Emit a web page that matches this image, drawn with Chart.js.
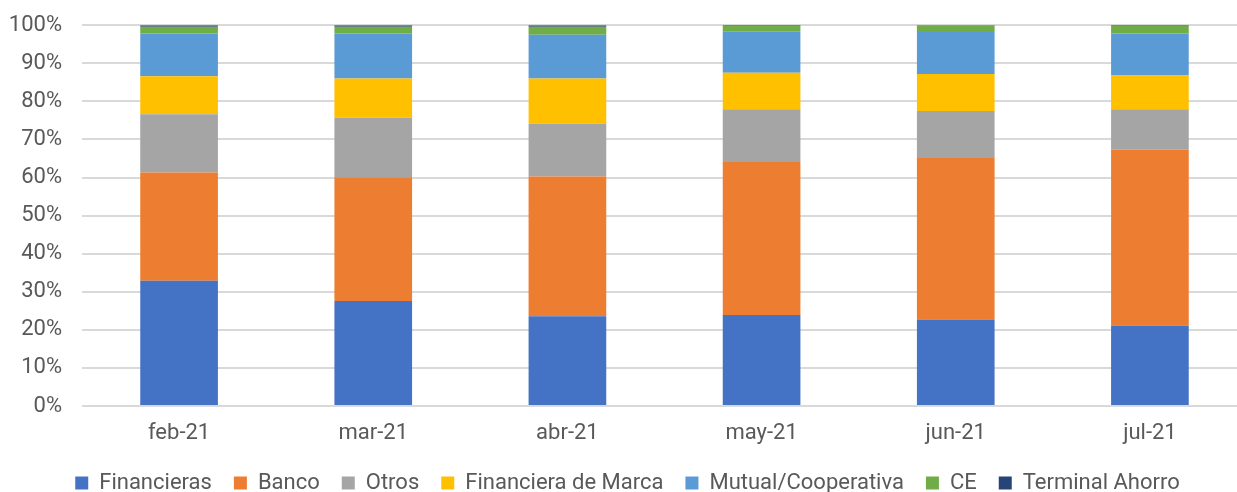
<!DOCTYPE html>
<html>
<head>
<meta charset="utf-8">
<script src="https://cdn.jsdelivr.net/npm/chart.js@4"></script>
<style>
  html, body { margin: 0; padding: 0; background: #fff; overflow: hidden; }
  #caja { width: 1290px; height: 512px; margin-top: -8px; }
</style>
</head>
<body>
<div id="caja"><canvas id="grafico"></canvas></div>
<script>
// Datos (porcentajes)
const meses = ['feb-21', 'mar-21', 'abr-21', 'may-21', 'jun-21', 'jul-21'];
const financieras = [32.9, 27.6, 23.6, 23.9, 22.7, 21.1];
const banco = [28.4, 32.5, 36.7, 40.2, 42.4, 46.2];
const otros = [15.3, 15.6, 13.8, 13.8, 12.4, 10.6];
const financieraMarca = [10.0, 10.3, 11.9, 9.6, 9.7, 8.9];
const mutualCoop = [11.2, 11.8, 11.5, 10.9, 11.0, 11.0];
const ce = [1.8, 1.8, 2.1, 1.4, 1.7, 2.0];
const terminalAhorro = [0.4, 0.4, 0.4, 0.2, 0.2, 0.2];

const fuente = 'Roboto, "Liberation Sans", sans-serif';
const gris = '#595959';

function serie(nombre, datos, color) {
    return {
        label: nombre,
        data: datos,
        backgroundColor: color,
        borderWidth: 0,
        categoryPercentage: 1,
        barPercentage: 0.4
    };
}

const ctx = document.getElementById('grafico').getContext('2d');
new Chart(ctx, {
    type: 'bar',
    data: {
        labels: meses,
        datasets: [
            serie('Financieras', financieras, '#4472C4'),
            serie('Banco', banco, '#ED7D31'),
            serie('Otros', otros, '#A5A5A5'),
            serie('Financiera de Marca', financieraMarca, '#FFC000'),
            serie('Mutual/Cooperativa', mutualCoop, '#5B9BD5'),
            serie('CE', ce, '#70AD47'),
            serie('Terminal Ahorro', terminalAhorro, '#264478')
        ]
    },
    options: {
        responsive: true,
        maintainAspectRatio: false,
        animation: false,
        layout: { padding: { top: 0, left: 8, right: 43, bottom: 0 } },
        scales: {
            x: {
                stacked: true,
                afterFit: eje => { eje.height = 44; },
                grid: { display: false },
                border: { display: false },
                ticks: { color: gris, font: { family: fuente, size: 22 }, padding: 6 }
            },
            y: {
                stacked: true,
                min: 0,
                max: 100,
                afterFit: eje => { eje.width = 74; },
                grid: { color: '#d9d9d9', lineWidth: 2, drawTicks: false },
                border: { display: false },
                ticks: {
                    stepSize: 10,
                    color: gris,
                    padding: 20,
                    font: { family: fuente, size: 22 },
                    callback: v => v + '%'
                }
            }
        },
        plugins: {
            legend: {
                position: 'bottom',
                labels: {
                    color: gris,
                    font: { family: fuente, size: 22 },
                    boxWidth: 13,
                    boxHeight: 13,
                    padding: 22
                }
            },
            tooltip: { enabled: false }
        }
    }
});
</script>
</body>
</html>
